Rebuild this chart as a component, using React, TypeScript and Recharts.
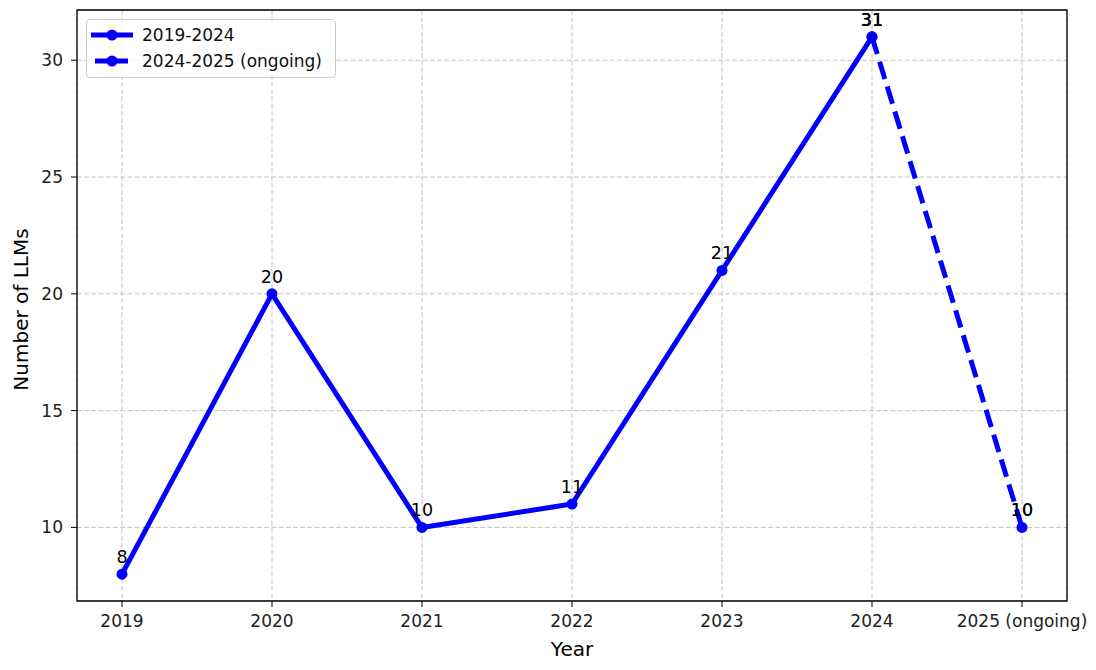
import {
  LineChart,
  Line,
  XAxis,
  YAxis,
  CartesianGrid,
  ReferenceArea,
  Legend,
  LabelList,
} from 'recharts';

// Year categories and LLM counts
const years = ['2019', '2020', '2021', '2022', '2023', '2024', '2025 (ongoing)'];
const countsToDate = [8, 20, 10, 11, 21, 31, null];
const countsOngoing = [null, null, null, null, null, 31, 10];
const yTicks = [10, 15, 20, 25, 30];

const BLUE = '#0000ff';
const FONT = 'DejaVu Sans, Verdana, sans-serif';
const DASH = '18 8';

const data = years.map((year, i) => ({
  idx: i,
  year,
  done: countsToDate[i],
  ongoing: countsOngoing[i],
}));

const xTicks = years.map((_, i) => i);

// matplotlib-like 5% padding on the y range
const allVals = [...countsToDate, ...countsOngoing].filter((v): v is number => v != null);
const yMin = Math.min(...allVals);
const yMax = Math.max(...allVals);
const yPad = (yMax - yMin) * 0.05;
const yDomain: [number, number] = [yMin - yPad, yMax + yPad];
const xDomain: [number, number] = [-0.3, years.length - 1 + 0.3];

function pointLabel(double: boolean) {
  return (props: any) => {
    const { x, y, value, index } = props;
    if (value == null || x == null || y == null) return null;
    const t = (
      <text
        x={x}
        y={y - 11}
        textAnchor="middle"
        fontSize={17.5}
        fontFamily={FONT}
        fill="#000"
      >
        {value}
      </text>
    );
    if (!double) return <g key={`l-${index}`}>{t}</g>;
    return (
      <g key={`l-${index}`}>
        {t}
        {t}
      </g>
    );
  };
}

function LegendBox(props: any) {
  const items = props.payload || [];
  return (
    <div
      style={{
        border: '1px solid #cccccc',
        borderRadius: 4,
        background: 'rgba(255,255,255,0.8)',
        width: 250,
        height: 59,
        boxSizing: 'border-box',
        fontFamily: FONT,
        fontSize: 17,
        color: '#111',
      }}
    >
      {items.map((entry: any, i: number) => {
        const dashed = entry.payload?.strokeDasharray;
        return (
          <div
            key={i}
            style={{ display: 'flex', alignItems: 'center', height: 26, marginTop: i === 0 ? 2 : 0 }}
          >
            <svg width={52} height={20} style={{ marginLeft: 3 }}>
              <line
                x1={dashed ? 5 : 1}
                x2={43}
                y1={10}
                y2={10}
                stroke={BLUE}
                strokeWidth={5}
                strokeDasharray={dashed ? '13 7' : undefined}
              />
              <circle cx={22} cy={10} r={5.5} fill={BLUE} />
            </svg>
            <span>{entry.value}</span>
          </div>
        );
      })}
    </div>
  );
}

export default function App() {
  return (
    <div style={{ position: 'absolute', left: 0, top: 0, width: 1096, height: 670, background: '#fff' }}>
      <LineChart
        width={1096}
        height={670}
        data={data}
        margin={{ top: 10, right: 29, left: 0, bottom: 0 }}
      >
        <CartesianGrid stroke="#c4c4c4" strokeDasharray="5 2.2" strokeWidth={1} />
        <XAxis
          dataKey="idx"
          type="number"
          domain={xDomain}
          ticks={xTicks}
          tickFormatter={(v: number) => years[v]}
          interval={0}
          height={69}
          axisLine={false}
          tickLine={{ stroke: '#000' }}
          tickSize={6}
          tickMargin={8}
          tick={{ fontSize: 17, fill: '#222', fontFamily: FONT }}
          allowDataOverflow
          label={{
            content: (p: any) => {
              const vb = p.viewBox;
              return (
                <text
                  x={vb.x + vb.width / 2}
                  y={vb.y + vb.height - 14}
                  textAnchor="middle"
                  fontSize={20}
                  fontFamily={FONT}
                  fill="#000"
                >
                  Year
                </text>
              );
            },
          }}
        />
        <YAxis
          type="number"
          domain={yDomain}
          ticks={yTicks}
          width={77}
          axisLine={false}
          tickLine={{ stroke: '#000' }}
          tickSize={6}
          tickMargin={8}
          tick={{ fontSize: 17, fill: '#222', fontFamily: FONT }}
          allowDataOverflow
          label={{
            content: (p: any) => {
              const vb = p.viewBox;
              const cx = 21;
              const cy = vb.y + vb.height / 2 + 4;
              return (
                <text
                  x={cx}
                  y={cy}
                  transform={`rotate(-90 ${cx} ${cy})`}
                  textAnchor="middle"
                  dominantBaseline="central"
                  fontSize={20}
                  fontFamily={FONT}
                  fill="#000"
                >
                  Number of LLMs
                </text>
              );
            },
          }}
        />
        <ReferenceArea
          x1={xDomain[0]}
          x2={xDomain[1]}
          y1={yDomain[0]}
          y2={yDomain[1]}
          fill="none"
          stroke="#000"
          strokeWidth={1.3}
          ifOverflow="visible"
        />
        <Legend
          layout="vertical"
          align="center"
          verticalAlign="middle"
          content={<LegendBox />}
          wrapperStyle={{ left: 86, top: 19, width: 250, height: 59 }}
        />
        <Line
          name="2019-2024"
          dataKey="done"
          stroke={BLUE}
          strokeWidth={5}
          dot={{ r: 5.5, fill: BLUE, stroke: BLUE, strokeWidth: 0 }}
          activeDot={false}
          isAnimationActive={false}
        >
          <LabelList dataKey="done" content={pointLabel(false)} />
        </Line>
        <Line
          name="2024-2025 (ongoing)"
          dataKey="ongoing"
          stroke={BLUE}
          strokeWidth={5}
          strokeDasharray={DASH}
          dot={{ r: 5.5, fill: BLUE, stroke: BLUE, strokeWidth: 0, strokeDasharray: '' }}
          activeDot={false}
          isAnimationActive={false}
        >
          <LabelList dataKey="ongoing" content={pointLabel(true)} />
        </Line>
      </LineChart>
    </div>
  );
}
